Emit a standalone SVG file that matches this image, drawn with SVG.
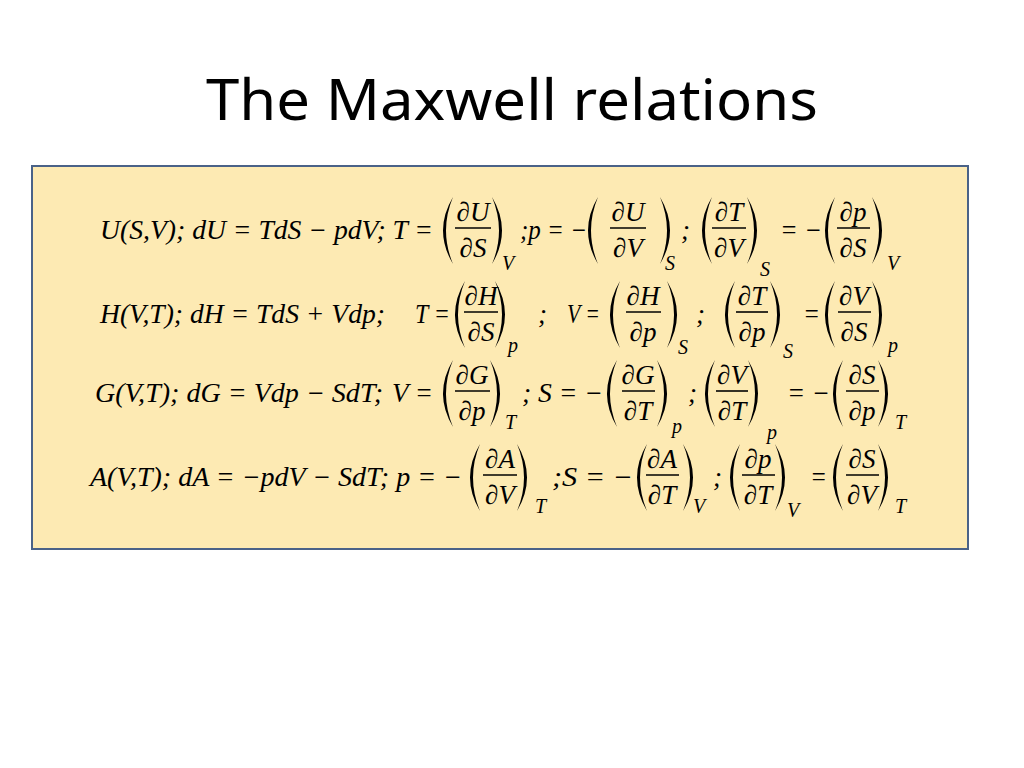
<svg xmlns="http://www.w3.org/2000/svg" width="1024" height="768" viewBox="0 0 1024 768">
<style>
.t{font-family:"Noto Sans","Open Sans",sans-serif;font-size:56px;fill:#000}
.m{font-family:"Liberation Serif",serif;font-style:italic;font-size:27px;fill:#000}
.f{font-family:"Liberation Serif",serif;font-style:italic;font-size:27px;fill:#000;text-anchor:middle}
.s{font-family:"Liberation Serif",serif;font-style:italic;font-size:20px;fill:#000}
.b{stroke:#000;stroke-width:1.6}
.p{fill:#000}
</style>
<rect width="1024" height="768" fill="#fff"/>
<text class="t" x="512" y="120" text-anchor="middle" textLength="612" lengthAdjust="spacingAndGlyphs">The Maxwell relations</text>
<rect x="32" y="166" width="936" height="383" fill="#fdeab3" stroke="#4a6288" stroke-width="2"/>

<g id="row1">
<text class="m" x="100" y="239" textLength="333" lengthAdjust="spacingAndGlyphs">U(S,V); dU = TdS  − pdV; T =</text>
<path class="p" d="M453,197 Q433,230.5 453,264 Q439,230.5 453,197Z"/>
<text class="f" x="473" y="221">∂U</text><line class="b" x1="455" y1="228" x2="491" y2="228"/><text class="f" x="473" y="257">∂S</text>
<path class="p" d="M492,197 Q512,230.5 492,264 Q506,230.5 492,197Z"/>
<text class="s" x="502" y="270">V</text>
<text class="m" x="520" y="239" textLength="67" lengthAdjust="spacingAndGlyphs">;p = −</text>
<path class="p" d="M598,197 Q578,230.5 598,264 Q584,230.5 598,197Z"/>
<text class="f" x="628" y="221">∂U</text><line class="b" x1="610" y1="228" x2="646" y2="228"/><text class="f" x="628" y="257">∂V</text>
<path class="p" d="M660,197 Q680,230.5 660,264 Q674,230.5 660,197Z"/>
<text class="s" x="665" y="270">S</text>
<text class="m" x="681" y="239">;</text>
<path class="p" d="M712,197 Q692,230.5 712,264 Q698,230.5 712,197Z"/>
<text class="f" x="729" y="221">∂T</text><line class="b" x1="712" y1="228" x2="746" y2="228"/><text class="f" x="729" y="257">∂V</text>
<path class="p" d="M747,197 Q767,230.5 747,264 Q761,230.5 747,197Z"/>
<text class="s" x="760" y="276">S</text>
<text class="m" x="780" y="239" textLength="42" lengthAdjust="spacingAndGlyphs">= −</text>
<path class="p" d="M835,197 Q815,230.5 835,264 Q821,230.5 835,197Z"/>
<text class="f" x="853" y="221">∂p</text><line class="b" x1="837" y1="228" x2="870" y2="228"/><text class="f" x="853" y="257">∂S</text>
<path class="p" d="M872,197 Q892,230.5 872,264 Q886,230.5 872,197Z"/>
<text class="s" x="887" y="270">V</text>
</g>

<g id="row2">
<text class="m" x="100" y="323" textLength="285" lengthAdjust="spacingAndGlyphs">H(V,T); dH = TdS + Vdp;</text>
<text class="m" x="415" y="323" textLength="35" lengthAdjust="spacingAndGlyphs">T =</text>
<path class="p" d="M465,281 Q445,314.5 465,348 Q451,314.5 465,281Z"/>
<text class="f" x="481" y="305">∂H</text><line class="b" x1="464" y1="312" x2="498" y2="312"/><text class="f" x="481" y="341">∂S</text>
<path class="p" d="M495,281 Q515,314.5 495,348 Q509,314.5 495,281Z"/>
<text class="s" x="508" y="352">p</text>
<text class="m" x="538" y="323">;</text>
<text class="m" x="567" y="323" textLength="33" lengthAdjust="spacingAndGlyphs">V =</text>
<path class="p" d="M620,281 Q600,314.5 620,348 Q606,314.5 620,281Z"/>
<text class="f" x="643" y="305">∂H</text><line class="b" x1="626" y1="312" x2="661" y2="312"/><text class="f" x="643" y="341">∂p</text>
<path class="p" d="M667,281 Q687,314.5 667,348 Q681,314.5 667,281Z"/>
<text class="s" x="678" y="354">S</text>
<text class="m" x="696" y="323">;</text>
<path class="p" d="M735,281 Q715,314.5 735,348 Q721,314.5 735,281Z"/>
<text class="f" x="752" y="305">∂T</text><line class="b" x1="736" y1="312" x2="768" y2="312"/><text class="f" x="752" y="341">∂p</text>
<path class="p" d="M770,281 Q790,314.5 770,348 Q784,314.5 770,281Z"/>
<text class="s" x="783" y="358">S</text>
<text class="m" x="803" y="323" textLength="17" lengthAdjust="spacingAndGlyphs">=</text>
<path class="p" d="M835,281 Q815,314.5 835,348 Q821,314.5 835,281Z"/>
<text class="f" x="854" y="305">∂V</text><line class="b" x1="838" y1="312" x2="871" y2="312"/><text class="f" x="854" y="341">∂S</text>
<path class="p" d="M872,281 Q892,314.5 872,348 Q886,314.5 872,281Z"/>
<text class="s" x="888" y="352">p</text>
</g>

<g id="row3">
<text class="m" x="95" y="402" textLength="288" lengthAdjust="spacingAndGlyphs">G(V,T); dG = Vdp  − SdT;</text>
<text class="m" x="392" y="402" textLength="41" lengthAdjust="spacingAndGlyphs">V =</text>
<path class="p" d="M453,360 Q433,393.5 453,427 Q439,393.5 453,360Z"/>
<text class="f" x="472" y="384">∂G</text><line class="b" x1="455" y1="391" x2="490" y2="391"/><text class="f" x="472" y="420">∂p</text>
<path class="p" d="M490,360 Q510,393.5 490,427 Q504,393.5 490,360Z"/>
<text class="s" x="505" y="429">T</text>
<text class="m" x="522" y="402" textLength="81" lengthAdjust="spacingAndGlyphs">; S = −</text>
<path class="p" d="M617,360 Q597,393.5 617,427 Q603,393.5 617,360Z"/>
<text class="f" x="638" y="384">∂G</text><line class="b" x1="622" y1="391" x2="655" y2="391"/><text class="f" x="638" y="420">∂T</text>
<path class="p" d="M657,360 Q677,393.5 657,427 Q671,393.5 657,360Z"/>
<text class="s" x="672" y="433">p</text>
<text class="m" x="688" y="402">;</text>
<path class="p" d="M715,360 Q695,393.5 715,427 Q701,393.5 715,360Z"/>
<text class="f" x="732" y="384">∂V</text><line class="b" x1="716" y1="391" x2="748" y2="391"/><text class="f" x="732" y="420">∂T</text>
<path class="p" d="M748,360 Q768,393.5 748,427 Q762,393.5 748,360Z"/>
<text class="s" x="767" y="439">p</text>
<text class="m" x="787" y="402" textLength="43" lengthAdjust="spacingAndGlyphs">= −</text>
<path class="p" d="M843,360 Q823,393.5 843,427 Q829,393.5 843,360Z"/>
<text class="f" x="862" y="384">∂S</text><line class="b" x1="846" y1="391" x2="879" y2="391"/><text class="f" x="862" y="420">∂p</text>
<path class="p" d="M878,360 Q898,393.5 878,427 Q892,393.5 878,360Z"/>
<text class="s" x="895" y="429">T</text>
</g>

<g id="row4">
<text class="m" x="90" y="486" textLength="372" lengthAdjust="spacingAndGlyphs">A(V,T); dA = −pdV  − SdT; p = −</text>
<path class="p" d="M480,444 Q460,477.5 480,511 Q466,477.5 480,444Z"/>
<text class="f" x="500" y="468">∂A</text><line class="b" x1="483" y1="475" x2="517" y2="475"/><text class="f" x="500" y="504">∂V</text>
<path class="p" d="M517,444 Q537,477.5 517,511 Q531,477.5 517,444Z"/>
<text class="s" x="535" y="513">T</text>
<text class="m" x="552" y="486" textLength="81" lengthAdjust="spacingAndGlyphs">;S = −</text>
<path class="p" d="M647,444 Q627,477.5 647,511 Q633,477.5 647,444Z"/>
<text class="f" x="662" y="468">∂A</text><line class="b" x1="646" y1="475" x2="679" y2="475"/><text class="f" x="662" y="504">∂T</text>
<path class="p" d="M683,444 Q703,477.5 683,511 Q697,477.5 683,444Z"/>
<text class="s" x="693" y="513">V</text>
<text class="m" x="713" y="486">;</text>
<path class="p" d="M740,444 Q720,477.5 740,511 Q726,477.5 740,444Z"/>
<text class="f" x="758" y="468">∂p</text><line class="b" x1="742" y1="475" x2="775" y2="475"/><text class="f" x="758" y="504">∂T</text>
<path class="p" d="M775,444 Q795,477.5 775,511 Q789,477.5 775,444Z"/>
<text class="s" x="787" y="517">V</text>
<text class="m" x="810" y="486" textLength="17" lengthAdjust="spacingAndGlyphs">=</text>
<path class="p" d="M843,444 Q823,477.5 843,511 Q829,477.5 843,444Z"/>
<text class="f" x="862" y="468">∂S</text><line class="b" x1="846" y1="475" x2="879" y2="475"/><text class="f" x="862" y="504">∂V</text>
<path class="p" d="M878,444 Q898,477.5 878,511 Q892,477.5 878,444Z"/>
<text class="s" x="895" y="513">T</text>
</g>
</svg>
